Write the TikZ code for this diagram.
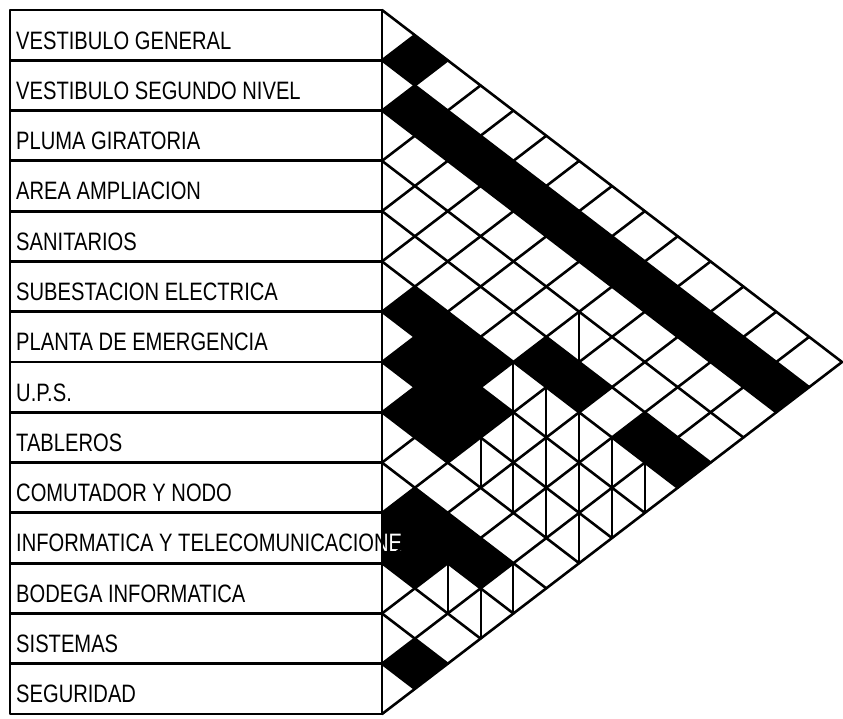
\documentclass[tikz,border=0pt]{standalone}
\usepackage{fontspec}
\newfontfamily\labelfont[FakeStretch=0.8]{Liberation Sans}
\usetikzlibrary{calc}
\tikzset{
    frame_line/.style={
        line width=2.4pt,
        line join=round
    },
    grid_line/.style={
        line width=2.2pt,
        line cap=round,
        line join=round
    },
    split_line/.style={
        line width=1.8pt
    },
    cell_black/.style={
        fill=black
    },
    row_label/.style={
        anchor=base west,
        inner sep=0pt,
        font=\labelfont\fontsize{21.5}{24}\selectfont
    },
    matrix_grid/.style={
        shift={(382,10)},
        x=0.98571cm,
        y=-0.75429cm
    }
}

\begin{document}
\begin{tikzpicture}[x=0.03cm, y=-0.03cm]
\useasboundingbox (0,0) rectangle (843,718);

% --- Interaction matrix: filled cells ---
\begin{scope}[matrix_grid]
\foreach \i/\j in {0/1,
    1/2, 1/3, 1/4, 1/5, 1/6, 1/7, 1/8, 1/9, 1/10, 1/11, 1/12, 1/13,
    4/9, 4/10, 4/12, 4/13,
    5/6, 5/7, 5/8, 6/7, 6/8, 6/9, 7/8, 7/9,
    9/10, 9/11, 9/12, 10/11, 12/13} {
  \pgfmathtruncatemacro\k{\j-\i}
  \pgfmathtruncatemacro\m{\i+\j+1}
  \fill[cell_black] (\k-1,\m) -- (\k,\m-1) -- (\k+1,\m) -- (\k,\m+1) -- cycle;
}
\fill[cell_black] (0,20) -- (1,21) -- (0,22) -- cycle;
\end{scope}

% --- Row labels ---
\foreach \name [count=\r from 0] in {VESTIBULO GENERAL, VESTIBULO SEGUNDO NIVEL,
    PLUMA GIRATORIA, AREA AMPLIACION, SANITARIOS, SUBESTACION ELECTRICA,
    PLANTA DE EMERGENCIA, U.P.S., TABLEROS, COMUTADOR Y NODO,
    INFORMATICA Y TELECOMUNICACIONE, BODEGA INFORMATICA, SISTEMAS, SEGURIDAD} {
  \node[row_label] (row\r) at (16,{10+\r*50.286+39}) {\name};
}
\begin{scope}
\clip (382,513) rectangle (470,563);
\node[row_label, text=white] (row10over) at (16,{10+10*50.286+39}) {INFORMATICA Y TELECOMUNICACIONE};
\end{scope}

% --- Interaction matrix: grid ---
\begin{scope}[matrix_grid]
\foreach \r in {0,...,13} {
  \draw[grid_line] (0,2*\r) -- ({14-\r},{14+\r});
}
\foreach \r in {1,...,14} {
  \draw[grid_line] (0,2*\r) -- (\r,\r);
}
% split cells
\foreach \i/\j in {3/9, 5/9, 5/10, 5/11, 5/12, 5/13,
    6/10, 6/11, 6/12, 6/13, 7/10, 7/11, 7/12, 7/13,
    9/13, 10/12, 10/13} {
  \pgfmathtruncatemacro\k{\j-\i}
  \pgfmathtruncatemacro\m{\i+\j+1}
  \draw[split_line] (\k,\m-1) -- (\k,\m+1);
}
\end{scope}

% --- Label table ---
\draw[frame_line] (10,10) rectangle (382,714);
\foreach \r in {1,...,13} {
  \draw[frame_line] (10,{10+\r*50.286}) -- (382,{10+\r*50.286});
}

\end{tikzpicture}
\end{document}
